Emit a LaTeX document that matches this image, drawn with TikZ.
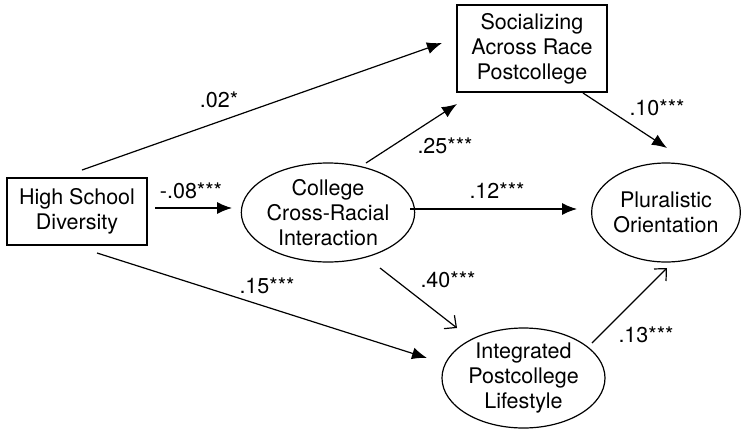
\documentclass[tikz,border=0pt]{standalone}
\usepackage{fontspec}
\setmainfont{TeX Gyre Heros}
\usetikzlibrary{arrows.meta,calc,shapes.geometric}
\begin{document}
\begin{tikzpicture}[x=1pt,y=-1pt,
  every node/.style={font=\fontsize{21.5}{25}\selectfont, align=center},
  boxnode/.style={draw, line width=1.2pt, rectangle, inner sep=0pt},
  ellnode/.style={draw, line width=1.2pt, ellipse, inner sep=0pt},
  filledarrow/.style={line width=1.2pt, -{Latex[length=15pt,width=12pt]}},
  openarrow/.style={line width=1.2pt, -{Straight Barb[length=9pt,width=17pt,line width=1.2pt]}},
  lbl/.style={inner sep=0pt}
]
\useasboundingbox (0,0) rectangle (748,429);
\node[boxnode, minimum width=140pt, minimum height=67pt] (hsd) at (77,211.5) {High School\\Diversity};
\node[boxnode, minimum width=150pt, minimum height=87pt] (soc) at (532,48.5) {Socializing\\Across Race\\Postcollege};
\node[ellnode, minimum width=164pt, minimum height=99pt] (col) at (328,212.5) {College\\Cross-Racial\\Interaction};
\node[ellnode, minimum width=148pt, minimum height=99pt] (plu) at (666,212.5) {Pluralistic\\Orientation};
\node[ellnode, minimum width=163pt, minimum height=100pt] (int) at (523.5,378) {Integrated\\Postcollege\\Lifestyle};

\draw[filledarrow] ($(hsd.center)+(5,-41.5)$) -- ($(soc.center)+(-90,-5.5)$);
\draw[filledarrow] ($(hsd.center)+(78,-3.5)$) -- ($(col.center)+(-96,-4.5)$);
\draw[filledarrow] ($(hsd.center)+(20,41.5)$) -- ($(int.center)+(-96.5,-20)$);
\draw[filledarrow] ($(col.center)+(38,-49.5)$) -- ($(soc.center)+(-75,55.5)$);
\draw[filledarrow] ($(col.center)+(82,-3.5)$) -- ($(plu.center)+(-89,-3.5)$);
\draw[filledarrow] ($(soc.center)+(51,44.5)$) -- ($(plu.center)+(1,-64.5)$);
\draw[openarrow] ($(col.center)+(52,55.5)$) -- ($(int.center)+(-66.5,-50)$);
\draw[openarrow] ($(int.center)+(68.5,-35)$) -- ($(plu.center)+(1,55.5)$);

\node[lbl] (l1) at (219,100) {.02*};
\node[lbl] (l2) at (191,191) {-.08***};
\node[lbl] (l3) at (267,286) {.15***};
\node[lbl] (l4) at (445,146) {.25***};
\node[lbl] (l5) at (497,191) {.12***};
\node[lbl] (l6) at (657,108) {.10***};
\node[lbl] (l7) at (448,280) {.40***};
\node[lbl] (l8) at (646,335) {.13***};
\end{tikzpicture}
\end{document}
